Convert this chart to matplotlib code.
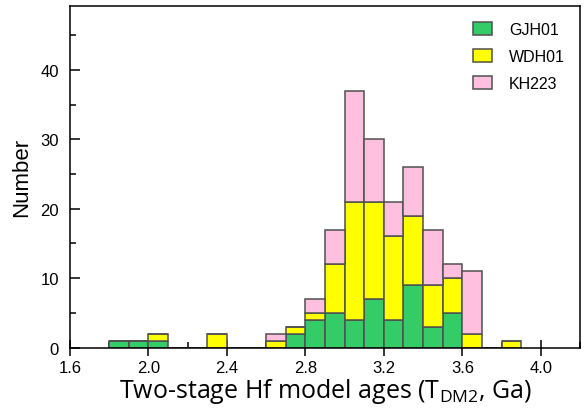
import numpy as np
import matplotlib
matplotlib.use("Agg")
import matplotlib.pyplot as plt
from matplotlib.ticker import MultipleLocator

# Bin left edges (Ga), bin width 0.1
bin_left = [1.8, 1.9, 2.0, 2.1, 2.2, 2.3, 2.4, 2.5, 2.6, 2.7, 2.8, 2.9,
            3.0, 3.1, 3.2, 3.3, 3.4, 3.5, 3.6, 3.7, 3.8]
bin_width = 0.1

# Counts per bin for each sample
gjh01 = [1, 1, 1, 0, 0, 0, 0, 0, 0, 2, 4, 5, 4, 7, 4, 9, 3, 5, 0, 0, 0]
wdh01 = [0, 0, 1, 0, 0, 2, 0, 0, 1, 1, 1, 7, 17, 14, 12, 10, 6, 5, 2, 0, 1]
kh223 = [0, 0, 0, 0, 0, 0, 0, 0, 1, 0, 2, 5, 16, 9, 5, 7, 8, 2, 9, 0, 0]

series_names = ["GJH01", "WDH01", "KH223"]
series_colors = ["#33CC66", "#FFFF00", "#FFC0E0"]

x_ticks = [1.6, 2.0, 2.4, 2.8, 3.2, 3.6, 4.0]
y_ticks = [0, 10, 20, 30, 40]

plt.rcParams["font.family"] = ["Liberation Sans", "DejaVu Sans"]

fig = plt.figure(figsize=(5.84, 4.14), dpi=100)
ax = fig.add_axes([0.1199, 0.1582, 0.8733, 0.8248])

centers = np.array(bin_left) + bin_width / 2
bottom = np.zeros(len(bin_left))
edge = "#505050"
for name, vals, col in zip(series_names, [gjh01, wdh01, kh223], series_colors):
    vals = np.array(vals, dtype=float)
    ax.bar(centers, vals, width=bin_width, bottom=bottom, color=col,
           edgecolor=edge, linewidth=1.1, label=name, zorder=2)
    bottom += vals

# baseline segments along zero where bins are empty
ax.plot([bin_left[0], bin_left[-1] + bin_width], [0, 0], color=edge,
        linewidth=1.1, zorder=1)

ax.set_xlim(1.6, 4.2)
ax.set_ylim(0, 49.2)
ax.set_xticks(x_ticks)
ax.set_xticklabels([f"{v:.1f}" for v in x_ticks])
ax.set_yticks(y_ticks)
ax.xaxis.set_minor_locator(MultipleLocator(0.2))
ax.yaxis.set_minor_locator(MultipleLocator(5))

ax.tick_params(axis="x", which="major", direction="inout", length=11,
               width=1.1, labelsize=12, pad=3.5)
ax.tick_params(axis="x", which="minor", direction="in", length=4, width=1.1)
ax.tick_params(axis="y", which="major", direction="in", length=7,
               width=1.1, labelsize=12, pad=8)
ax.tick_params(axis="y", which="minor", direction="in", length=4, width=1.1)

for s in ax.spines.values():
    s.set_linewidth(1.1)
    s.set_color("black")

ax.set_xlabel("Two-stage Hf model ages (T$_{\\mathregular{DM2}}$, Ga)",
              fontsize=18, family=["Open Sans", "DejaVu Sans"], labelpad=1)
ax.set_ylabel("Number", fontsize=16, labelpad=6)

leg = ax.legend(loc="upper right", bbox_to_anchor=(0.998, 0.995), frameon=False,
                fontsize=11.5, handlelength=1.2, handleheight=0.87,
                labelspacing=0.75, handletextpad=1.05)

fig.savefig("out.png", dpi=100)
